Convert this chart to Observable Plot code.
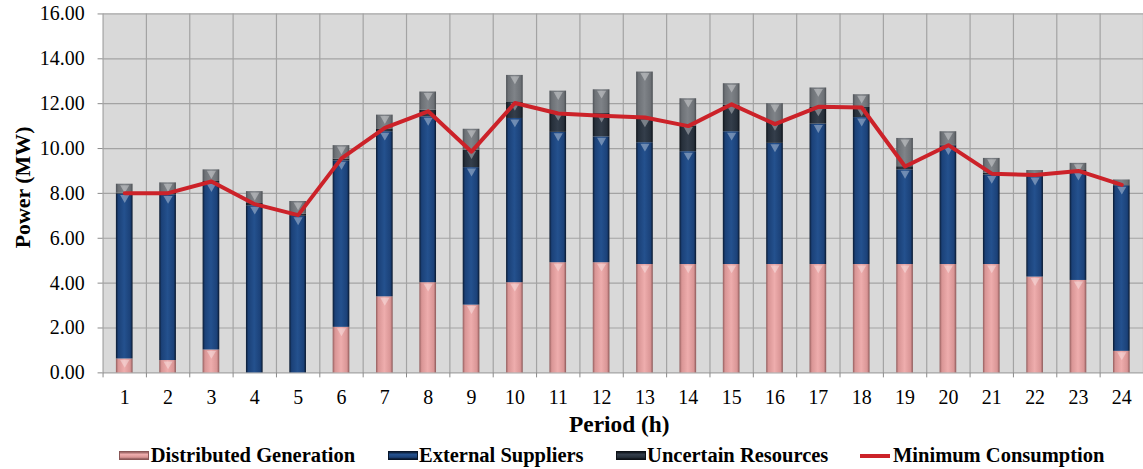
<!DOCTYPE html>
<html>
<head>
<meta charset="utf-8">
<script src="https://cdn.jsdelivr.net/npm/d3@7"></script>
<script src="https://cdn.jsdelivr.net/npm/@observablehq/plot@0.6"></script>
<style>
  html, body { margin: 0; padding: 0; background: #ffffff; overflow: hidden; }
  #chart { position: relative; width: 1143px; height: 469px; overflow: hidden; }
  #chart svg { display: block; }
  .legend { position: absolute; left: 0; top: 0; width: 1143px; height: 469px; pointer-events: none;
            font-family: "Liberation Serif", "Times New Roman", serif; font-weight: bold; font-size: 20.5px; color: #000; }
  .sw { position: absolute; top: 451px; width: 30px; height: 9px; box-sizing: border-box; }
  .lbl { position: absolute; top: 445px; line-height: 20.5px; white-space: nowrap; }
</style>
</head>
<body>
<div id="chart"></div>
<script>
// Hourly supply mix (MW) against the minimum consumption curve
const periods = [1, 2, 3, 4, 5, 6, 7, 8, 9, 10, 11, 12, 13, 14, 15, 16, 17, 18, 19, 20, 21, 22, 23, 24];
const distributed = [0.62, 0.55, 1.02, 0.00, 0.00, 2.03, 3.39, 4.02, 3.02, 4.02, 4.91, 4.91, 4.83, 4.83, 4.83, 4.83, 4.83, 4.83, 4.83, 4.83, 4.83, 4.27, 4.12, 0.96];
const external    = [7.35, 7.38, 7.44, 7.45, 6.98, 7.42, 7.36, 7.39, 6.13, 7.32, 5.81, 5.61, 5.43, 5.03, 5.92, 5.40, 6.26, 6.55, 4.22, 5.28, 3.99, 4.48, 4.85, 7.38];
const uncertain   = [0.04, 0.07, 0.07, 0.10, 0.10, 0.08, 0.10, 0.30, 0.78, 0.74, 0.91, 1.04, 1.08, 1.14, 1.18, 0.96, 0.74, 0.45, 0.14, 0.05, 0.08, 0.07, 0.05, 0.04];
const surplus     = [0.40, 0.47, 0.52, 0.53, 0.56, 0.60, 0.64, 0.81, 0.93, 1.18, 0.93, 1.06, 2.07, 1.22, 0.96, 0.81, 0.87, 0.57, 1.26, 0.59, 0.66, 0.20, 0.32, 0.22];
const consumption = [8.01, 8.01, 8.53, 7.52, 7.03, 9.56, 10.92, 11.66, 9.86, 12.03, 11.56, 11.46, 11.38, 11.00, 11.97, 11.09, 11.86, 11.83, 9.20, 10.15, 8.88, 8.82, 9.00, 8.38];
const yTicks = [0, 2, 4, 6, 8, 10, 12, 14, 16];

const seriesNames = ["Distributed Generation", "External Suppliers", "Uncertain Resources", "Uncertain Surplus"];
const seriesValues = [distributed, external, uncertain, surplus];
const legendNames = ["Distributed Generation", "External Suppliers", "Uncertain Resources"];
const lineName = "Minimum Consumption";

// Bevel-like horizontal gradients for each stacked series
const gradients = [
  {id: "g-dist", stops: ["#935e5e", "#d99595", "#eeadad", "#d99595", "#8a5757"]},
  {id: "g-ext",  stops: ["#0a1a31", "#1b4178", "#24518e", "#1b4178", "#08162b"]},
  {id: "g-unc",  stops: ["#0e1319", "#262f3a", "#343e4b", "#262f3a", "#0d1117"]},
  {id: "g-sur",  stops: ["#4f5358", "#6d7176", "#7f8388", "#6d7176", "#4b4f53"]}
];
const stopOffsets = ["0%", "14%", "50%", "86%", "100%"];
const lineColor = "#cc2229";
const gridColor = "#a3a3a3";
const serif = "'Liberation Serif', 'Times New Roman', serif";

const rows = periods.flatMap((p, i) =>
  seriesNames.map((s, k) => ({period: p, series: s, value: seriesValues[k][i]}))
);
const lineRows = periods.map((p, i) => ({period: p, value: consumption[i]}));
const bounds = periods.map(p => p - 0.5).concat([periods[periods.length - 1] + 0.5]);

const bandInset = 13.4;

const svg = Plot.plot({
  width: 1148,
  height: 440,
  marginLeft: 103,
  marginRight: 0,
  marginTop: 13.5,
  marginBottom: 66,
  style: {fontFamily: serif, background: "transparent", overflow: "visible", color: "#000"},
  x: {domain: [0.5, 24.5], axis: null},
  y: {domain: [0, 16], axis: null},
  color: {domain: seriesNames, range: gradients.map(g => `url(#${g.id})`)},
  r: {type: "identity"},
  marks: [
    Plot.frame({fill: "#d9d9d9", stroke: null}),
    Plot.ruleY(yTicks, {stroke: gridColor, strokeWidth: 1.2}),
    Plot.ruleX(bounds, {stroke: gridColor, strokeWidth: 1.2}),
    Plot.axisY({ticks: yTicks, tickFormat: d3.format(".2f"), tickSize: 5, tickPadding: 13.5,
                fontSize: 20, stroke: "#8a8a8a", label: null}),
    Plot.axisX({ticks: periods, tickSize: 0, tickPadding: 17.5, fontSize: 20, label: null}),
    Plot.axisX({ticks: bounds, tickSize: 5, tickFormat: () => "", stroke: "#8a8a8a", label: null}),
    Plot.rectY(rows, Plot.stackY({
      x1: d => d.period - 0.5,
      x2: d => d.period + 0.5,
      y: "value",
      z: "series",
      fill: "series",
      order: seriesNames,
      insetLeft: bandInset,
      insetRight: bandInset
    })),
    Plot.dot(rows, Plot.stackY2({
      x: "period",
      y: "value",
      z: "series",
      order: seriesNames,
      r: d => (d.value > 0.3 ? 3.4 : 0),
      symbol: "triangle",
      rotate: 180,
      dy: 3.6,
      fill: "#ffffff",
      fillOpacity: 0.35,
      stroke: null
    })),
    Plot.line(lineRows, {x: "period", y: "value", stroke: lineColor, strokeWidth: 4, strokeLinejoin: "round"}),
    Plot.text(["Power (MW)"], {text: d => d, frameAnchor: "left", dx: -80, dy: -6, rotate: -90,
                               fontSize: 22, fontWeight: "bold", textAnchor: "middle", lineAnchor: "middle"}),
    Plot.text(["Period (h)"], {text: d => d, frameAnchor: "bottom", dx: -4, dy: 52,
                               fontSize: 23.5, fontWeight: "bold", textAnchor: "middle", lineAnchor: "middle"})
  ]
});

// Gradient definitions referenced by the bar fills
const defs = d3.select(svg).insert("defs", ":first-child");
for (const g of gradients) {
  const lg = defs.append("linearGradient").attr("id", g.id).attr("x1", "0").attr("x2", "1").attr("y1", "0").attr("y2", "0");
  g.stops.forEach((c, i) => lg.append("stop").attr("offset", stopOffsets[i]).attr("stop-color", c));
}

const chart = document.getElementById("chart");
chart.appendChild(svg);

// Legend row below the plot
const legend = d3.select(chart).append("div").attr("class", "legend");
const swatchLeft = [119.3, 387.5, 615.6];
legendNames.forEach((name, i) => {
  const g = gradients[i];
  legend.append("div").attr("class", "sw")
    .style("left", swatchLeft[i] + "px")
    .style("background", `linear-gradient(to bottom, ${g.stops[0]}, ${g.stops[2]} 35%, ${g.stops[1]} 75%, ${g.stops[4]})`)
    .style("border", `1px solid ${g.stops[4]}`);
  legend.append("span").attr("class", "lbl").style("left", (swatchLeft[i] + 31.5) + "px").text(name);
});
legend.append("div").attr("class", "sw")
  .style("left", "859.7px").style("top", "454px").style("height", "4px").style("background", lineColor);
legend.append("span").attr("class", "lbl").style("left", "893px").text(lineName);
</script>
</body>
</html>
